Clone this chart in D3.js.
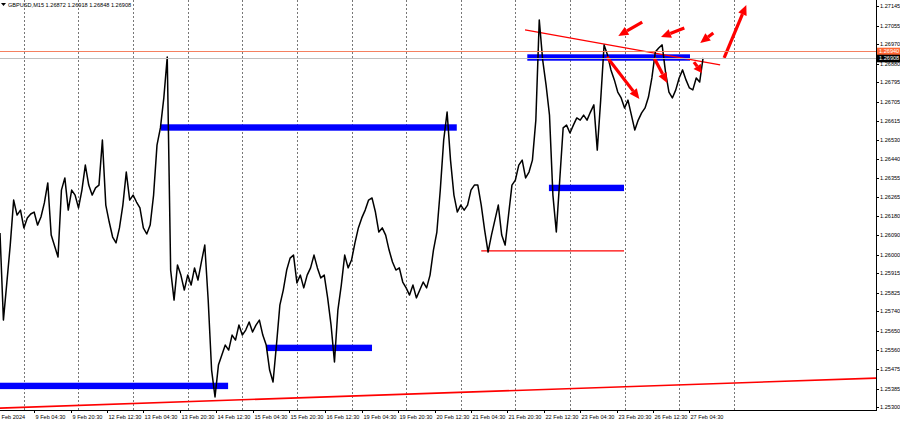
<!DOCTYPE html>
<html><head><meta charset="utf-8">
<script src="https://cdn.jsdelivr.net/npm/d3@7"></script>
<style>body{margin:0;background:#fff}svg{display:block}text{font-family:"Liberation Sans",Arial,sans-serif}</style>
</head><body><svg id="c" width="900" height="423"></svg>
<script>
// ---- data ----
const symbolTitle = "GBPUSD,M15  1.26872 1.26918 1.26848 1.26908";
const barsPerSample = 6; // one sample every 6 M15 bars
const closes = [
1.26101,1.25700,1.25871,1.26045,1.26252,1.26183,1.26206,1.26124,1.26170,1.26188,
1.26197,1.26137,1.26174,1.26239,1.26331,1.26091,1.26041,1.25990,1.26298,1.26354,
1.26206,1.26298,1.26275,1.26216,1.26298,1.26413,1.26321,1.26275,1.26308,1.26321,
1.26528,1.26229,1.26151,1.26082,1.26055,1.26124,1.26229,1.26381,1.26252,1.26275,
1.26243,1.26216,1.26124,1.26096,1.26137,1.26275,1.26505,1.26584,1.26722,1.26910,
1.25930,1.25792,1.25953,1.25907,1.25838,1.25907,1.25861,1.25940,1.25884,1.25967,
1.26045,1.25792,1.25470,1.25346,1.25493,1.25539,1.25585,1.25562,1.25631,1.25608,
1.25677,1.25631,1.25654,1.25691,1.25645,1.25677,1.25700,1.25631,1.25585,1.25470,
1.25415,1.25585,1.25769,1.25838,1.25930,1.25985,1.25999,1.25871,1.25907,1.25848,
1.25907,1.25940,1.25999,1.25940,1.25894,1.25907,1.25802,1.25677,1.25507,1.25746,
1.25861,1.25999,1.25940,1.25976,1.26055,1.26124,1.26170,1.26206,1.26252,1.26262,
1.26197,1.26105,1.26124,1.26091,1.26022,1.25967,1.25930,1.25940,1.25875,1.25848,
1.25815,1.25861,1.25802,1.25838,1.25875,1.25848,1.25907,1.26022,1.26105,1.26298,
1.26528,1.26657,1.26436,1.26275,1.26197,1.26229,1.26206,1.26229,1.26298,1.26321,
1.26321,1.26229,1.26114,1.26013,1.26091,1.26160,1.26229,1.26091,1.26045,1.26183,
1.26321,1.26344,1.26413,1.26436,1.26354,1.26381,1.26436,1.26620,1.27081,1.26897,
1.26781,1.26643,1.26275,1.26105,1.26344,1.26584,1.26597,1.26561,1.26597,1.26630,
1.26620,1.26643,1.26620,1.26657,1.26690,1.26482,1.26712,1.26966,1.26920,1.26851,
1.26805,1.26749,1.26722,1.26676,1.26712,1.26643,1.26574,1.26620,1.26653,1.26676,
1.26726,1.26814,1.26933,1.26952,1.26966,1.26841,1.26749,1.26722,1.26759,1.26814,
1.26851,1.26805,1.26768,1.26759,1.26814,1.26795,1.26906
];
const priceTicks = [1.27145,1.27055,1.26970,1.26880,1.26795,1.26705,1.26615,1.26530,1.26440,1.26355,
  1.26265,1.26180,1.26090,1.26000,1.25915,1.25825,1.25740,1.25650,1.25560,1.25475,1.25385,1.25300];
const timeLabels = ["Feb 2024","9 Feb 04:30","9 Feb 20:30","12 Feb 12:30","13 Feb 04:30","13 Feb 20:30",
  "14 Feb 12:30","15 Feb 04:30","15 Feb 20:30","16 Feb 12:30","19 Feb 04:30","19 Feb 20:30","20 Feb 12:30",
  "21 Feb 04:30","21 Feb 20:30","22 Feb 12:30","23 Feb 04:30","23 Feb 20:30","26 Feb 12:30","27 Feb 04:30"];
const timeLabelBars = [0,60,124,188,252,316,380,444,508,572,636,700,764,828,892,956,1020,1084,1148,1212];
const daySeparatorBars = [42,138,234,330,426,522,618,714,810,906,1002,1098,1194,1290];
const bidPrice = 1.26908, askPrice = 1.26940;
// support/resistance zones: [price, fromBar, toBar]
const blueZones = [[1.25397,0,401],[1.26586,283,803],[1.25572,469,654],[1.26308,965,1097],[1.26908,927,1213]];
// red lines: [bar1, price1, bar2, price2]
const redLines = [[0,1.25295,1540,1.25433],[923,1.27035,1266,1.26874],[846,1.26018,1097,1.26018]];
// arrows: [bar1, price1, bar2(tip), price2(tip)]
const arrows = [[1129,1.27071,1087,1.27007],[1203,1.27044,1162,1.27002],[1254,1.27021,1231,1.26975],
  [1273,1.26906,1312,1.27150],[1067,1.26910,1124,1.26717],[1150,1.26906,1173,1.26791],[1220,1.26887,1234,1.26837]];

// ---- drawing ----
const svg = d3.select("#c");
const W = 876, H = 410;
const x = d3.scaleLinear().domain([0,1540]).range([0,W]);
const y = d3.scaleLinear().domain([1.25300,1.27145]).range([407,6]);

const plot = svg.append("g");
plot.append("clipPath").attr("id","clip").append("rect").attr("width",W).attr("height",H);
const g = plot.append("g").attr("clip-path","url(#clip)");

g.selectAll(".grid").data(daySeparatorBars).enter().append("line")
  .attr("x1",d=>Math.round(x(d))+0.5).attr("x2",d=>Math.round(x(d))+0.5)
  .attr("y1",0).attr("y2",H).attr("stroke","#777").attr("stroke-dasharray","2,2");

g.selectAll(".zone").data(blueZones).enter().append("rect")
  .attr("x",d=>x(d[1])).attr("width",d=>x(d[2])-x(d[1]))
  .attr("y",d=>y(d[0])-3.2).attr("height",6.4).attr("fill","#0000ff");

g.selectAll(".rl").data(redLines).enter().append("line")
  .attr("x1",d=>x(d[0])).attr("y1",d=>y(d[1])).attr("x2",d=>x(d[2])).attr("y2",d=>y(d[3]))
  .attr("stroke","#ff0000").attr("stroke-width",(d,i)=>i===0?1.6:1.3);

g.append("path").datum(closes)
  .attr("d",d3.line().x((d,i)=>x(i*barsPerSample)).y(d=>y(d)))
  .attr("fill","none").attr("stroke","#000").attr("stroke-width",1.5).attr("stroke-linejoin","round");

// arrows
arrows.forEach((a,k)=>{
  const x1=x(a[0]),y1=y(a[1]),x2=x(a[2]),y2=y(a[3]);
  const dx=x2-x1,dy=y2-y1,len=Math.hypot(dx,dy),ux=dx/len,uy=dy/len;
  const hl=Math.min(10,len*0.6),hw=4.5;
  const bx=x2-ux*hl,by=y2-uy*hl;
  g.append("line").attr("x1",x1).attr("y1",y1).attr("x2",bx).attr("y2",by)
    .attr("stroke","#ff0000").attr("stroke-width",3.2);
  g.append("path").attr("d",`M${x2},${y2}L${bx-uy*hw},${by+ux*hw}L${bx+uy*hw},${by-ux*hw}Z`).attr("fill","#ff0000");
});

// ask / bid lines
g.append("line").attr("x1",0).attr("x2",W).attr("y1",Math.round(y(askPrice))+0.5).attr("y2",Math.round(y(askPrice))+0.5)
  .attr("stroke","#f58060");
g.append("line").attr("x1",0).attr("x2",W).attr("y1",Math.round(y(bidPrice))+0.5).attr("y2",Math.round(y(bidPrice))+0.5)
  .attr("stroke","#c0c0c0");

// axes frame
svg.append("line").attr("x1",W+0.5).attr("x2",W+0.5).attr("y1",0).attr("y2",H+1).attr("stroke","#000");
svg.append("line").attr("x1",0).attr("x2",W+1).attr("y1",H+0.5).attr("y2",H+0.5).attr("stroke","#000");

// price axis
const pt = svg.selectAll(".pt").data(priceTicks).enter().append("g")
  .attr("transform",d=>`translate(${W},${Math.round(y(d))+0.5})`);
pt.append("line").attr("x1",0).attr("x2",3).attr("stroke","#000");
pt.append("text").attr("x",4).attr("dy","0.35em").attr("font-size",5.6).attr("fill","#000")
  .text(d=>d.toFixed(5));

// time axis
const tt = svg.selectAll(".tt").data(timeLabels).enter().append("g")
  .attr("transform",(d,i)=>`translate(${Math.round(x(timeLabelBars[i]))+0.5},${H})`);
tt.append("line").attr("y1",0).attr("y2",3).attr("stroke","#000").attr("opacity",(d,i)=>i===0?0:1);
tt.append("text").attr("x",1).attr("y",8.5).attr("font-size",5.6).attr("fill","#000").text(d=>d);

// price boxes
[[askPrice,"#ff6633"],[bidPrice,"#000"]].forEach(([p,c])=>{
  const yy=Math.round(y(p))+0.5;
  svg.append("rect").attr("x",W+1).attr("y",yy-3.8).attr("width",900-W-1).attr("height",7.6).attr("fill",c);
  svg.append("text").attr("x",W+3).attr("y",yy).attr("dy","0.35em").attr("font-size",5.6).attr("fill","#fff").text(p.toFixed(5));
});

// title
svg.append("path").attr("d","M1,3L6,3L3.5,6Z").attr("fill","#000");
svg.append("text").attr("x",8).attr("y",7).attr("font-size",5.6).attr("fill","#000").text(symbolTitle);
</script></body></html>
